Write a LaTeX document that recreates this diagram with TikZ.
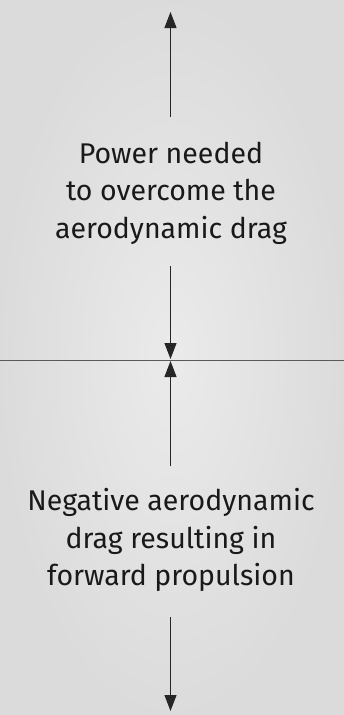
\documentclass[tikz,border=0pt]{standalone}
\usepackage{fontspec}
\setmainfont{Fira Sans}
\usetikzlibrary{arrows.meta}
\begin{document}
\begin{tikzpicture}[x=1pt,y=-1pt,
  lbl/.style={align=center,font=\fontsize{28.5}{37.5}\selectfont,text=black!90,inner sep=0pt},
  arr/.style={draw=black!85,line width=1.1pt,-{Triangle[width=12pt,length=16pt]}},
  divider/.style={draw=black!65,line width=1pt}]
\shade[inner color=gray!16,outer color=gray!28] (0,0) rectangle (344,715);
\useasboundingbox (0,0) rectangle (344,715);
\node[lbl] (t1) at (171,193) {Power needed\\to overcome the\\aerodynamic drag};
\node[lbl] (t2) at (171,540) {Negative aerodynamic\\drag resulting in\\forward propulsion};
\coordinate (a1s) at (170.5,117);
\coordinate (a1e) at (170.5,12);
\coordinate (a2s) at (170.5,266);
\coordinate (a2e) at (170.5,359);
\coordinate (a3s) at (170.5,466);
\coordinate (a3e) at (170.5,361);
\coordinate (a4s) at (170.5,617);
\coordinate (a4e) at (170.5,711);
\coordinate (hl) at (0,360);
\coordinate (hr) at (344,360);
\draw[divider] (hl) -- (hr);
\draw[arr] (a1s) -- (a1e);
\draw[arr] (a2s) -- (a2e);
\draw[arr] (a3s) -- (a3e);
\draw[arr] (a4s) -- (a4e);
\end{tikzpicture}
\end{document}
